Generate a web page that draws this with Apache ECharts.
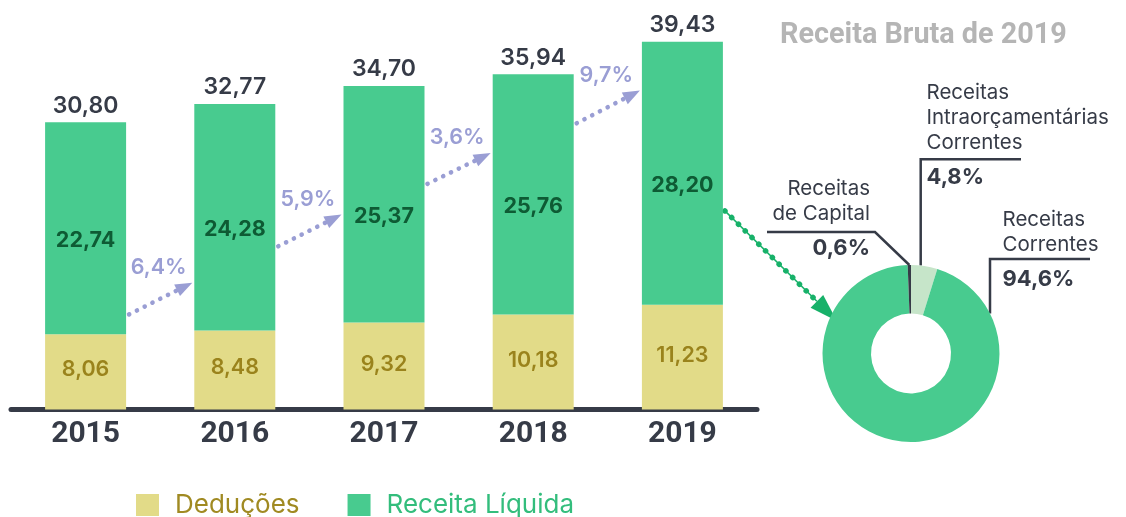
<!DOCTYPE html>
<html>
<head>
<meta charset="utf-8">
<script src="https://cdn.jsdelivr.net/npm/echarts@6/dist/echarts.min.js"></script>
<style>
  html, body { margin: 0; padding: 0; background: #ffffff; }
  #chart { width: 1126px; height: 517px; }
</style>
</head>
<body>
<div id="chart"></div>
<script>
// ---- data (R$ bilhões) ----
const years = ['2015', '2016', '2017', '2018', '2019'];
const deducoes = [8.06, 8.48, 9.32, 10.18, 11.23];
const receitaLiquida = [22.74, 24.28, 25.37, 25.76, 28.20];
const receitaBruta = [30.80, 32.77, 34.70, 35.94, 39.43];
const growthLabels = ['6,4%', '5,9%', '3,6%', '9,7%'];

// composition of the 2019 gross revenue (%), clockwise from 12 o'clock
const pieNames = ['Receitas\nIntraorçamentárias\nCorrentes', 'Receitas\nCorrentes', 'Receitas\nde Capital'];
const pieValues = [4.8, 94.6, 0.6];

// ---- styling / layout ----
const C_GREEN = '#48cb8f';
const C_YELLOW = '#e2db88';
const C_DARK = '#363b47';
const C_LIGHT = '#c6e5c9';
const C_LAV = '#9a9ed4';
const C_ARROW_GREEN = '#17b169';
const BAR_W = 81;
const PIE_C = [911, 353.5];
const PIE_R = [40, 88.5];

// growth arrows: value levels where each arrow leaves one bar and reaches the next
const arrowLevels = [[10.2, 13.6], [17.5, 20.9], [24.2, 27.5], [30.7, 34.2]];

const fmt2 = v => v.toFixed(2).replace('.', ',');
const fmt1 = v => v.toFixed(1).replace('.', ',');

// where the donut annotation blocks sit
const pieLabelPlacement = [
  { align: 'left',  x: 926.5, top: 80,    lineX: 920.7, lineY: 159.3, lineEnd: 1021 },
  { align: 'left',  x: 1002.5, top: 207.5, lineX: 990,   lineY: 259,   lineEnd: 1090 },
  { align: 'right', x: 870,   top: 176.5, elbowX: 875,  lineY: 232,   lineEnd: 767 }
];

function circleYAt(x) {
  const dx = x - PIE_C[0];
  return PIE_C[1] - Math.sqrt(PIE_R[1] * PIE_R[1] - dx * dx);
}

const chart = echarts.init(document.getElementById('chart'), null, { renderer: 'canvas' });

const option = {
  animation: false,
  backgroundColor: '#ffffff',
  title: {
    text: 'Receita Bruta de 2019',
    left: 780,
    top: 21,
    padding: 0,
    textStyle: { fontFamily: 'Roboto', fontWeight: 'bold', fontSize: 28.8, color: '#b5b5b5' }
  },
  legend: {
    left: 136,
    top: 492,
    padding: 0,
    itemWidth: 23,
    itemHeight: 22,
    itemGap: 48,
    icon: 'rect',
    selectedMode: false,
    textStyle: { fontFamily: 'Inter', fontSize: 26, padding: [0, 0, 0, 11] },
    data: [
      { name: 'Deduções', textStyle: { color: '#a08a22' } },
      { name: 'Receita Líquida', textStyle: { color: '#33bd7c' } }
    ]
  },
  grid: { left: 11, right: 369, top: 36.5, bottom: 107.5 },
  xAxis: {
    type: 'category',
    data: years,
    axisLine: { show: true, lineStyle: { color: C_DARK, width: 5 } },
    axisTick: { show: false },
    axisLabel: { margin: 10, color: C_DARK, fontFamily: 'Roboto', fontWeight: 'bold', fontSize: 30 },
    splitLine: { show: false }
  },
  yAxis: { type: 'value', min: 0, max: 40, show: false },
  series: [
    {
      name: 'Deduções',
      type: 'bar',
      stack: 'bruta',
      barWidth: BAR_W,
      data: deducoes,
      itemStyle: { color: C_YELLOW },
      silent: true,
      label: {
        show: true, position: 'inside', offset: [0, -2],
        formatter: p => fmt2(p.value),
        color: '#9a831c', fontFamily: 'Inter', fontWeight: 600, fontSize: 21.5
      }
    },
    {
      name: 'Receita Líquida',
      type: 'bar',
      stack: 'bruta',
      barWidth: BAR_W,
      data: receitaLiquida,
      itemStyle: { color: C_GREEN },
      silent: true,
      label: {
        show: true, position: 'inside', offset: [0, 12],
        formatter: p => fmt2(p.value),
        color: '#0e5b34', fontFamily: 'Inter', fontWeight: 700, fontSize: 21.5
      }
    },
    {
      name: 'Receita Bruta',
      type: 'bar',
      barWidth: BAR_W,
      barGap: '-100%',
      data: receitaBruta,
      itemStyle: { color: 'rgba(0,0,0,0)' },
      silent: true,
      z: 1,
      label: {
        show: true, position: 'top', distance: 5,
        formatter: p => fmt2(p.value),
        color: C_DARK, fontFamily: 'Inter', fontWeight: 600, fontSize: 23
      }
    },
    {
      name: 'Composição 2019',
      type: 'pie',
      center: PIE_C,
      radius: PIE_R,
      startAngle: 90,
      clockwise: true,
      avoidLabelOverlap: false,
      silent: true,
      emphasis: { disabled: true },
      data: pieNames.map((n, i) => ({ name: n, value: pieValues[i] })),
      itemStyle: {
        color: p => [C_LIGHT, C_GREEN, C_DARK][p.dataIndex],
        borderWidth: 0
      },
      label: {
        show: true,
        position: 'outside',
        formatter: p => {
          const r = pieLabelPlacement[p.dataIndex].align === 'right';
          const lines = p.name.split('\n').map(s => '{' + (r ? 'nr' : 'n') + '|' + s + '}');
          return lines.join('\n') + '\n{' + (r ? 'pr' : 'p') + '|' + fmt1(p.value) + '%}';
        },
        rich: {
          n:  { fontFamily: 'Inter', fontSize: 20.5, lineHeight: 25, color: C_DARK },
          nr: { fontFamily: 'Inter', fontSize: 20.5, lineHeight: 25, color: C_DARK, align: 'right' },
          p:  { fontFamily: 'Inter', fontSize: 22, fontWeight: 700, lineHeight: 44, color: C_DARK },
          pr: { fontFamily: 'Inter', fontSize: 22, fontWeight: 700, lineHeight: 44, color: C_DARK, align: 'right' }
        }
      },
      labelLine: { show: true, lineStyle: { color: C_DARK, width: 2.5 } },
      labelLayout: function (params) {
        const cfg = pieLabelPlacement[params.dataIndex];
        let pts;
        if (cfg.elbowX != null) {
          // diagonal leader from the slice's outer edge (mid angle)
          const start = params.labelLinePoints ? params.labelLinePoints[0] : [PIE_C[0], PIE_C[1] - PIE_R[1]];
          pts = [[cfg.lineEnd, cfg.lineY], [cfg.elbowX, cfg.lineY], [start[0], start[1]]];
        } else {
          pts = [[cfg.lineX, circleYAt(cfg.lineX)], [cfg.lineX, cfg.lineY], [cfg.lineEnd, cfg.lineY]];
        }
        return { x: cfg.x, y: cfg.top, align: cfg.align, verticalAlign: 'top', labelLinePoints: pts };
      }
    }
  ]
};

chart.setOption(option);

// ---- annotation arrows ----
function arrowHead(tip, from, len, width, color) {
  const dx = tip[0] - from[0], dy = tip[1] - from[1];
  const d = Math.hypot(dx, dy);
  const ux = dx / d, uy = dy / d;
  const nx = -uy, ny = ux;
  const bx = tip[0] - ux * len, by = tip[1] - uy * len;
  return {
    base: [bx, by],
    el: {
      type: 'polygon',
      silent: true,
      shape: { points: [[tip[0], tip[1]], [bx + nx * width / 2, by + ny * width / 2], [bx - nx * width / 2, by - ny * width / 2]] },
      style: { fill: color }
    }
  };
}

const graphics = [];
const toPx = (i, v) => chart.convertToPixel({ gridIndex: 0 }, [i, v]);

growthLabels.forEach((txt, i) => {
  const a = toPx(i, arrowLevels[i][0]);
  const b = toPx(i + 1, arrowLevels[i][1]);
  const start = [a[0] + BAR_W / 2 + 3, a[1]];
  const tip = [b[0] - BAR_W / 2 - 2, b[1]];
  const head = arrowHead(tip, start, 17, 13, C_LAV);
  graphics.push({
    type: 'line', silent: true,
    shape: { x1: start[0], y1: start[1], x2: head.base[0], y2: head.base[1] },
    style: { stroke: C_LAV, lineWidth: 4.6, lineCap: 'round', lineDash: [0.1, 8.6] }
  });
  graphics.push(head.el);
  const mx = (start[0] + tip[0]) / 2, my = (start[1] + tip[1]) / 2;
  graphics.push({
    type: 'text', silent: true,
    x: mx - 2, y: my - 31,
    style: {
      text: txt, fill: C_LAV, font: '600 21.5px Inter',
      align: 'center', verticalAlign: 'middle', textAlign: 'center', textVerticalAlign: 'middle'
    }
  });
});

// arrow from the 2019 bar into the donut
(function () {
  const p = toPx(4, 21.3);
  const start = [p[0] + BAR_W / 2 + 2, p[1]];
  const ang = 156.3 * Math.PI / 180;
  const tip = [PIE_C[0] + Math.cos(ang) * PIE_R[1] * 0.915, PIE_C[1] - Math.sin(ang) * PIE_R[1] * 0.915];
  const head = arrowHead(tip, start, 28, 18, C_ARROW_GREEN);
  graphics.push({
    type: 'line', silent: true,
    shape: { x1: start[0], y1: start[1], x2: head.base[0], y2: head.base[1] },
    style: { stroke: C_ARROW_GREEN, lineWidth: 1.5 }
  });
  graphics.push({
    type: 'line', silent: true,
    shape: { x1: start[0], y1: start[1], x2: head.base[0], y2: head.base[1] },
    style: { stroke: C_ARROW_GREEN, lineWidth: 5.5, lineCap: 'round', lineDash: [0.1, 9.4] }
  });
  graphics.push(head.el);
})();

chart.setOption({ graphic: graphics });
</script>
</body>
</html>
